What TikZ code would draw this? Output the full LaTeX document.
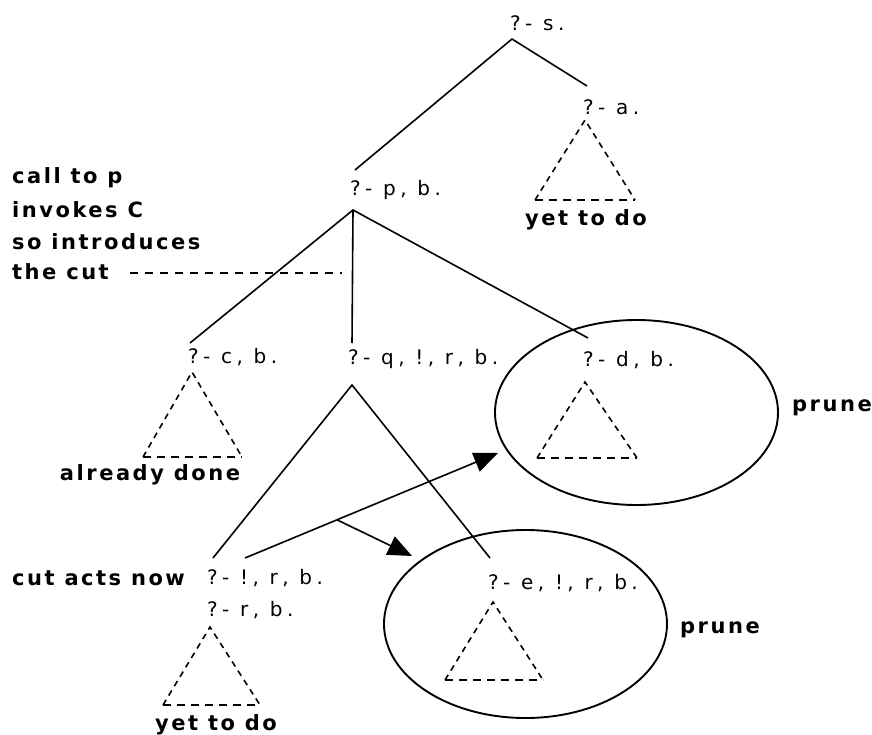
\documentclass[tikz,border=0pt]{standalone}
\usepackage{fontspec}
\usetikzlibrary{arrows.meta,calc}
\newfontfamily\labfont[LetterSpace=22]{DejaVu Sans}
\newfontfamily\notefont[LetterSpace=12]{DejaVu Sans}
\begin{document}
\begin{tikzpicture}[x=1pt,y=-1pt,
  goal/.style={font=\labfont\fontsize{20}{23}\selectfont,inner sep=0pt,anchor=west},
  note/.style={font=\notefont\bfseries\fontsize{21}{25}\selectfont,inner sep=0pt},
  edge/.style={line width=1.6pt},
  subtree/.style={line width=1.6pt,dash pattern=on 6pt off 5pt},
  subbase/.style={line width=1.6pt,dash pattern=on 8pt off 6pt},
  cutline/.style={line width=1.6pt,dash pattern=on 8pt off 7pt},
  prunering/.style={line width=1.9pt},
  bigarrow/.style={line width=1.6pt,-{Triangle[length=24pt,width=20pt]}}]
\useasboundingbox (0,0) rectangle (872,735);
\fill[white] (0,0) rectangle (872,735);

% goal labels
\node[goal] (s) at (510,23) {?- s.};
\node[goal] (a) at (583,107) {?- a.};
\node[goal] (p) at (350,190) {?- p, b.};
\node[goal] (c) at (188,357) {?- c, b.};
\node[goal] (q) at (348,359) {?- q, !, r, b.};
\node[goal] (d) at (583,360) {?- d, b.};
\node[goal] (cut) at (207,578) {?- !, r, b.};
\node[goal] (r) at (207,610) {?- r, b.};
\node[goal] (e) at (488,583) {?- e, !, r, b.};

% connector points
\coordinate (sB) at (512,39);
\coordinate (aT) at (587,86);
\coordinate (pT) at (355,170);
\coordinate (pB) at (353,210);
\coordinate (cT) at (190,343);
\coordinate (qT) at (352,343);
\coordinate (dT) at (588,338);
\coordinate (qB) at (352,385);
\coordinate (cutT) at (213,558);
\coordinate (eT) at (490,558);

% tree edges
\draw[edge] (pT) -- (sB) -- (aT);
\draw[edge] (cT) -- (pB) -- (dT);
\draw[edge] (pB) -- (qT);
\draw[edge] (cutT) -- (qB) -- (eT);

% dashed subtrees
\coordinate (aA) at (585,120); \coordinate (aL) at (535,200); \coordinate (aR) at (635,200);
\coordinate (cA) at (192,372); \coordinate (cL) at (143,457); \coordinate (cR) at (242,457);
\coordinate (dA) at (585,382); \coordinate (dL) at (537,458); \coordinate (dR) at (637,458);
\coordinate (eA) at (493,602); \coordinate (eL) at (445,680); \coordinate (eR) at (543,680);
\coordinate (rA) at (210,627); \coordinate (rL) at (163,705); \coordinate (rR) at (260,705);
\foreach \t in {a,c,d,e,r}{
  \draw[subtree] (\t L) -- (\t A) -- (\t R);
  \draw[subbase] (\t L) -- (\t R);
}

% prune ellipses
\draw[prunering] (636.5,412.5) ellipse [x radius=141.5, y radius=92.5];
\draw[prunering] (525.5,624) ellipse [x radius=141.5, y radius=94];

% arrows
\coordinate (arS) at (245,558);
\coordinate (arE) at (498,453);
\coordinate (ar2S) at ($(arS)!0.3636!(arE)$);
\coordinate (ar2E) at (412,556);
\draw[bigarrow] (arS) -- (arE);
\draw[bigarrow] (ar2S) -- (ar2E);

% cut marker
\coordinate (cutL) at (130,273);
\coordinate (cutR) at (342,273);
\draw[cutline] (cutL) -- (cutR);

% notes
\node[note,anchor=west] (n1) at (12,178) {call to p};
\node[note,anchor=west] (n2) at (12,210) {invokes C};
\node[note,anchor=west] (n3) at (12,242) {so introduces};
\node[note,anchor=west] (n4) at (12,272) {the cut};
\node[note] (y1) at (586,220) {yet to do};
\node[note] (ad) at (150,475) {already done};
\node[note,anchor=west] (can) at (12,578) {cut acts now};
\node[note] (y2) at (216,725) {yet to do};
\node[note,anchor=west] (pr1) at (792,408) {prune};
\node[note,anchor=west] (pr2) at (680,630) {prune};
\end{tikzpicture}
\end{document}
